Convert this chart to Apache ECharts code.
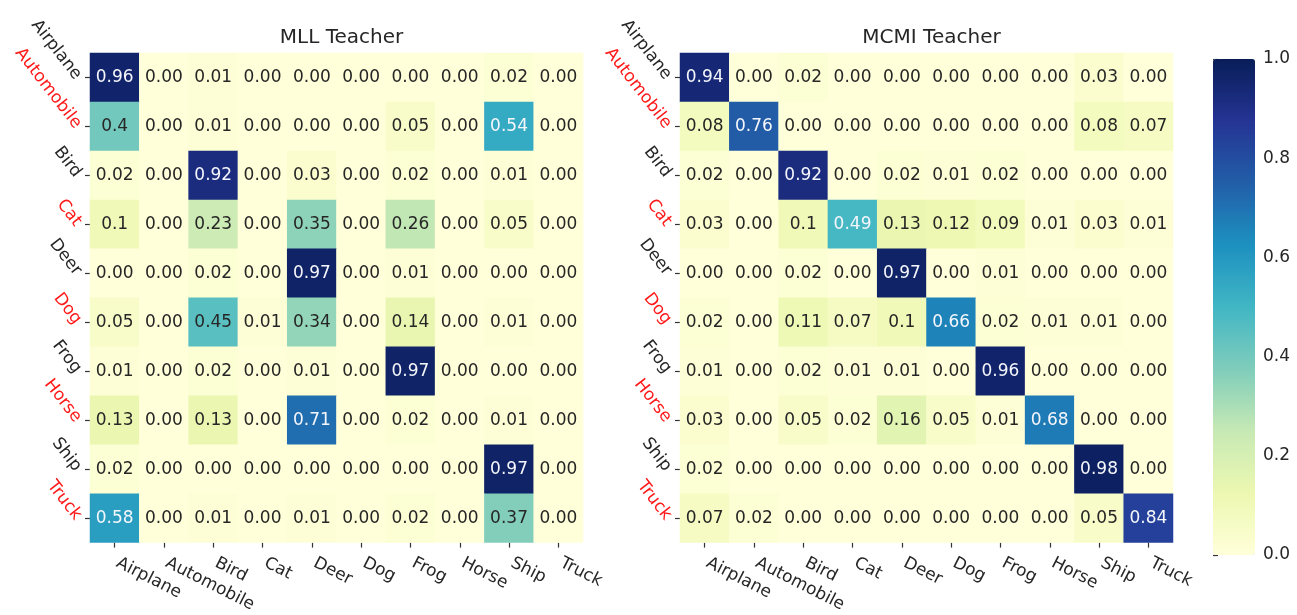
<!DOCTYPE html>
<html><head><meta charset="utf-8">
<script src="https://cdn.jsdelivr.net/npm/echarts@6/dist/echarts.min.js"></script>
<style>html,body{margin:0;padding:0;background:#fff}#c{width:1297px;height:615px}</style>
</head><body><div id="c"></div>
<script>
const classes = ['Airplane','Automobile','Bird','Cat','Deer','Dog','Frog','Horse','Ship','Truck'];
const redClasses = ['Automobile','Cat','Dog','Horse','Truck'];
const titles = ['MLL Teacher','MCMI Teacher'];
const colorbarTicks = [0, 0.2, 0.4, 0.6, 0.8, 1.0];
const ylgnbu = ['#ffffd9','#edf8b1','#c7e9b4','#7fcdbb','#41b6c4','#1d91c0','#225ea8','#253494','#081d58'];

// rows = true class, columns = predicted class (text as printed in the cells)
const mll = [
 ['0.96','0.00','0.01','0.00','0.00','0.00','0.00','0.00','0.02','0.00'],
 ['0.4','0.00','0.01','0.00','0.00','0.00','0.05','0.00','0.54','0.00'],
 ['0.02','0.00','0.92','0.00','0.03','0.00','0.02','0.00','0.01','0.00'],
 ['0.1','0.00','0.23','0.00','0.35','0.00','0.26','0.00','0.05','0.00'],
 ['0.00','0.00','0.02','0.00','0.97','0.00','0.01','0.00','0.00','0.00'],
 ['0.05','0.00','0.45','0.01','0.34','0.00','0.14','0.00','0.01','0.00'],
 ['0.01','0.00','0.02','0.00','0.01','0.00','0.97','0.00','0.00','0.00'],
 ['0.13','0.00','0.13','0.00','0.71','0.00','0.02','0.00','0.01','0.00'],
 ['0.02','0.00','0.00','0.00','0.00','0.00','0.00','0.00','0.97','0.00'],
 ['0.58','0.00','0.01','0.00','0.01','0.00','0.02','0.00','0.37','0.00']
];
const mcmi = [
 ['0.94','0.00','0.02','0.00','0.00','0.00','0.00','0.00','0.03','0.00'],
 ['0.08','0.76','0.00','0.00','0.00','0.00','0.00','0.00','0.08','0.07'],
 ['0.02','0.00','0.92','0.00','0.02','0.01','0.02','0.00','0.00','0.00'],
 ['0.03','0.00','0.1','0.49','0.13','0.12','0.09','0.01','0.03','0.01'],
 ['0.00','0.00','0.02','0.00','0.97','0.00','0.01','0.00','0.00','0.00'],
 ['0.02','0.00','0.11','0.07','0.1','0.66','0.02','0.01','0.01','0.00'],
 ['0.01','0.00','0.02','0.01','0.01','0.00','0.96','0.00','0.00','0.00'],
 ['0.03','0.00','0.05','0.02','0.16','0.05','0.01','0.68','0.00','0.00'],
 ['0.02','0.00','0.00','0.00','0.00','0.00','0.00','0.00','0.98','0.00'],
 ['0.07','0.02','0.00','0.00','0.00','0.00','0.00','0.00','0.05','0.84']
];

const FONT = 'DejaVu Sans';
function toData(m){
  const out = [];
  m.forEach((row, r) => row.forEach((txt, c) => {
    const v = parseFloat(txt);
    out.push({value:[c, r, v], txt:txt, label:{color: v > 0.47 ? '#f4f6fb' : '#262626'}});
  }));
  return out;
}
const grids = [{left:90, top:53, width:493, height:493},{left:680, top:53, width:493, height:493},{left:1213, top:59, width:42, height:496}];
const xAxes = [0,1].map(i => ({
  type:'category', gridIndex:i, data:classes,
  axisLine:{show:false}, splitLine:{show:false},
  axisTick:{show:true, alignWithLabel:true, length:5, lineStyle:{color:'#333', width:1.2}},
  axisLabel:{rotate:-27, margin:18, fontSize:17, fontFamily:FONT, color:'#262626', padding:[0,0,0,3]}
}));
xAxes.push({type:'value', gridIndex:2, show:false});
const yAxes = [0,1].map(i => ({
  type:'category', gridIndex:i, inverse:true,
  data: classes.map(n => ({value:n, textStyle:{color: redClasses.includes(n) ? '#ff1a1a' : '#262626'}})),
  axisLine:{show:false}, splitLine:{show:false},
  axisTick:{show:true, alignWithLabel:true, length:5, lineStyle:{color:'#333', width:1.2}},
  axisLabel:{rotate:-52, margin:12, fontSize:17, fontFamily:FONT}
}));
yAxes.push({type:'value', gridIndex:2, position:'right', min:0, max:1, interval:0.2,
  axisLine:{show:false}, splitLine:{show:false},
  axisTick:{show:true, length:5, lineStyle:{color:'#333', width:1.2}},
  axisLabel:{margin:8, fontSize:17, fontFamily:FONT, color:'#262626', formatter: v => v.toFixed(1)},
  data: colorbarTicks});

const chart = echarts.init(document.getElementById('c'));
chart.setOption({
  animation:false,
  backgroundColor:'#fff',
  title: titles.map((t,i) => ({text:t, left: grids[i].left + grids[i].width/2, top:23, textAlign:'center',
    textStyle:{fontFamily:FONT, fontSize:20, fontWeight:'normal', color:'#262626'}})),
  grid: grids,
  xAxis: xAxes,
  yAxis: yAxes,
  visualMap: {type:'continuous', min:0, max:1, calculable:false, seriesIndex:[0,1],
    orient:'vertical', left:1213, top:59, itemWidth:42, itemHeight:496, padding:0,
    text:null, showLabel:false, inRange:{color:ylgnbu}},
  series: [mll, mcmi].map((m,i) => ({
    type:'heatmap', xAxisIndex:i, yAxisIndex:i, data:toData(m),
    label:{show:true, fontSize:17, fontFamily:FONT, formatter: p => p.data.txt},
    itemStyle:{borderWidth:0}
  }))
});
</script></body></html>
